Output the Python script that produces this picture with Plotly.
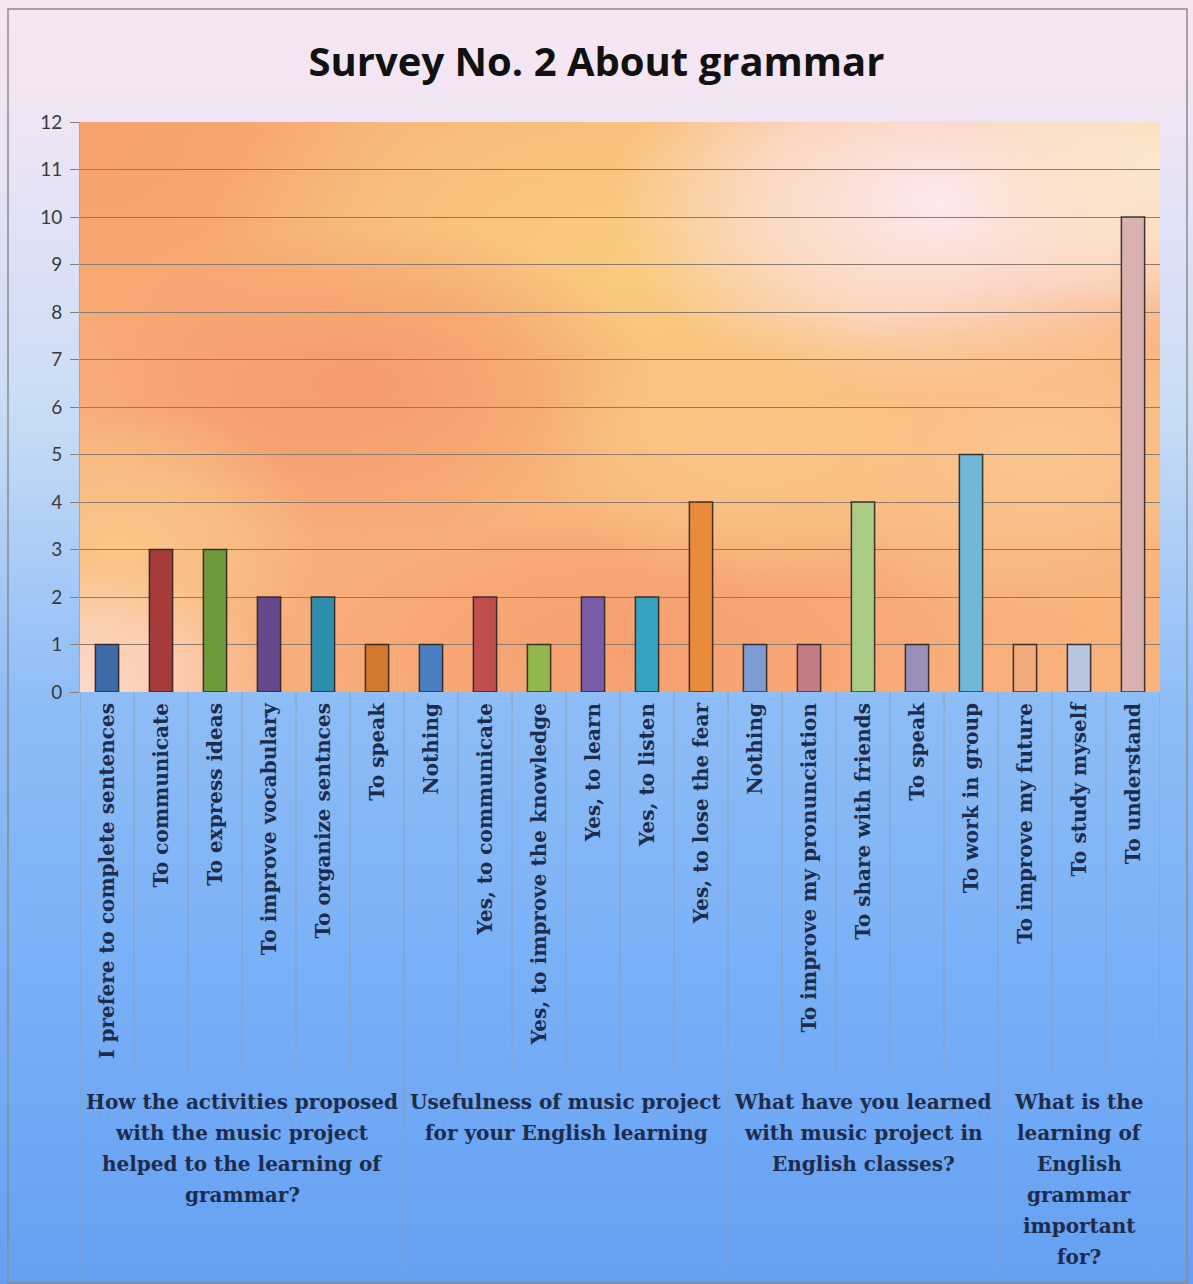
import base64
import plotly.graph_objects as go

# ---------------- data ----------------
categories = [
    "I prefere to complete sentences", "To communicate", "To express ideas",
    "To improve vocabulary", "To organize sentnces", "To speak",
    "Nothing", "Yes, to communicate", "Yes, to improve the knowledge",
    "Yes, to learn", "Yes, to listen", "Yes, to lose the fear",
    "Nothing", "To improve my pronunciation", "To share with friends",
    "To speak", "To work in group",
    "To improve my future", "To study myself", "To understand",
]
values = [1, 3, 3, 2, 2, 1,
          1, 2, 1, 2, 2, 4,
          1, 1, 4, 1, 5,
          1, 1, 10]
bar_colors = ["#3D6CA8", "#A63B3B", "#6F9A3B", "#66498C", "#2E8FAD", "#D4782E",
              "#4A7FC1", "#C04E4C", "#92B84D", "#7A5CA8", "#35A2C0", "#E98B3A",
              "#7C9CD2", "#C27C84", "#A9CB84", "#9A8EBA", "#6FB9D8",
              "#F3AA7A", "#B8C5DF", "#D9B1B0"]
group_lines = [
    ["How the activities proposed", "with the music project",
     "helped to the learning of", "grammar?"],
    ["Usefulness of music project", "for your English learning"],
    ["What have you learned", "with music project in", "English classes?"],
    ["What is the", "learning of", "English", "grammar", "important", "for?"],
]
group_sizes = [6, 6, 5, 3]
y_ticks = list(range(0, 13))
title_text = "Survey No. 2 About grammar"

# ---------------- backgrounds (pure decoration, SVG gradients) ----------------
W, H = 1193, 1284
outer_svg = f'''<svg xmlns="http://www.w3.org/2000/svg" width="{W}" height="{H}" viewBox="0 0 {W} {H}" preserveAspectRatio="none">
<defs>
<linearGradient id="bg" x1="0" y1="0" x2="0" y2="1">
<stop offset="0" stop-color="#F8E6F2"/>
<stop offset="0.08" stop-color="#F2E5F4"/>
<stop offset="0.16" stop-color="#E3E3F5"/>
<stop offset="0.32" stop-color="#C9DCF5"/>
<stop offset="0.45" stop-color="#A6CAF6"/>
<stop offset="0.55" stop-color="#8DBDF7"/>
<stop offset="0.75" stop-color="#7AB0F6"/>
<stop offset="1" stop-color="#65A0F2"/>
</linearGradient>
</defs>
<rect x="0" y="0" width="{W}" height="{H}" fill="url(#bg)"/>
</svg>'''

PW, PH = 1080, 570
def rg(i, color):
    return (f'<radialGradient id="r{i}"><stop offset="0" stop-color="{color}" stop-opacity="1"/>'
            f'<stop offset="0.55" stop-color="{color}" stop-opacity="0.6"/>'
            f'<stop offset="1" stop-color="{color}" stop-opacity="0"/></radialGradient>')
blobs = [
    (0, 0, 320, 260, "#F6A26C"),
    (540, 150, 420, 280, "#F9CB7E"),
    (860, 80, 330, 200, "#FDE9EE"),
    (1080, 40, 220, 160, "#FCE8CC"),
    (280, 260, 300, 160, "#F59B6E"),
    (960, 330, 260, 170, "#FAC68E"),
    (40, 430, 200, 150, "#F9C688"),
    (0, 570, 200, 130, "#FDDACB"),
    (560, 530, 330, 140, "#F6A070"),
    (1080, 540, 200, 150, "#F9B47A"),
    (680, 330, 220, 140, "#F9C584"),
]
defs = "".join(rg(i, c) for i, (_, _, _, _, c) in enumerate(blobs))
ells = "".join(f'<ellipse cx="{x}" cy="{y}" rx="{rx}" ry="{ry}" fill="url(#r{i})"/>'
               for i, (x, y, rx, ry, _) in enumerate(blobs))
plot_svg = (f'<svg xmlns="http://www.w3.org/2000/svg" width="{PW}" height="{PH}" viewBox="0 0 {PW} {PH}" '
            f'preserveAspectRatio="none"><defs>{defs}</defs>'
            f'<rect x="0" y="0" width="{PW}" height="{PH}" fill="#F8AE7A"/>{ells}</svg>')

def uri(svg):
    return "data:image/svg+xml;base64," + base64.b64encode(svg.encode()).decode()

# ---------------- figure ----------------
x_idx = list(range(len(categories)))
fig = go.Figure()
fig.add_trace(go.Bar(
    x=x_idx, y=values,
    marker=dict(color=bar_colors, line=dict(color="rgba(45,35,35,0.9)", width=1.5)),
    width=0.43, hoverinfo="y",
))

serif = "DejaVu Serif, Liberation Serif, serif"
label_color = "#1E2C4C"

fig.update_layout(
    width=W, height=H,
    margin=dict(l=80, r=W - 1160, t=122, b=H - 692),
    paper_bgcolor="#F8E6F2",
    plot_bgcolor="rgba(0,0,0,0)",
    showlegend=False,
    title=dict(text=f"<b>{title_text}</b>", x=0.5, xanchor="center", y=1 - 62 / H, yanchor="middle",
               font=dict(family="Open Sans, Lato, sans-serif", size=40, color="#111111")),
    images=[
        dict(source=uri(outer_svg), xref="paper", yref="paper", x=-80 / 1080, y=1 + 122 / 570,
             sizex=W / 1080, sizey=H / 570, xanchor="left", yanchor="top",
             sizing="stretch", layer="below"),
        dict(source=uri(plot_svg), xref="paper", yref="paper", x=0, y=1, sizex=1, sizey=1,
             xanchor="left", yanchor="top", sizing="stretch", layer="below"),
    ],
    xaxis=dict(
        range=[-0.5, len(categories) - 0.5],
        tickmode="array", tickvals=x_idx, ticktext=[f"<b>{c}</b>" for c in categories],
        tickangle=-90, showgrid=False, zeroline=False, showline=False,
        ticks="", ticklabelstandoff=6,
        tickfont=dict(family=serif, size=20, color=label_color),
    ),
    yaxis=dict(
        range=[0, 12], tickmode="array", tickvals=y_ticks,
        showgrid=True, gridcolor="#8A7A70", gridwidth=1.3,
        zeroline=False, showline=True, linecolor="#B0A4A0", linewidth=1,
        ticks="outside", ticklen=9, tickcolor="#8A7A70", tickwidth=1.3,
        tickfont=dict(family="Lato, Open Sans, sans-serif", size=19, color="#3A3A3A"),
        ticklabelstandoff=4,
    ),
)

# divider lines below the axis
shapes = []
bounds = [0]
for s in group_sizes:
    bounds.append(bounds[-1] + s)
for k in range(len(categories) + 1):
    is_group = k in bounds
    y_end = -(1272 - 692) / 570 if is_group else -(1070 - 692) / 570
    shapes.append(dict(type="line", xref="x", yref="paper", x0=k - 0.5, x1=k - 0.5,
                       y0=0, y1=y_end, line=dict(color="#8AA0BE", width=1)))
# outer border
shapes.append(dict(type="rect", xref="paper", yref="paper",
                   x0=-72 / 1080, x1=(1187 - 80) / 1080, y0=1 - (1283 - 122) / 570, y1=1 + (122 - 9) / 570,
                   line=dict(color="#8A8A8A", width=1.5), fillcolor="rgba(0,0,0,0)"))
fig.update_layout(shapes=shapes)

# group labels (one annotation per line)
annotations = []
for g, lines in enumerate(group_lines):
    xc = (bounds[g] + bounds[g + 1]) / 2 - 0.5
    for j, line in enumerate(lines):
        ypix = 1102 + 31 * j
        annotations.append(dict(
            x=xc, xref="x", y=1 - (ypix - 122) / 570, yref="paper",
            text=f"<b>{line}</b>", showarrow=False, xanchor="center", yanchor="middle",
            font=dict(family=serif, size=20, color=label_color),
        ))
fig.update_layout(annotations=annotations)

fig.write_html("out.html")
